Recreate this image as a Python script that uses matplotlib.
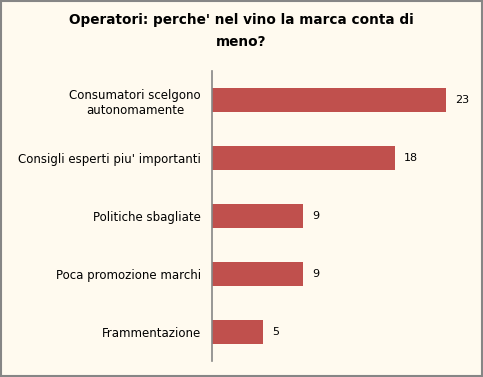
import matplotlib.pyplot as plt
from matplotlib.patches import Rectangle

categories = ['Consumatori scelgono\nautonomamente', "Consigli esperti piu' importanti",
              'Politiche sbagliate', 'Poca promozione marchi', 'Frammentazione']
values = [23, 18, 9, 9, 5]

bg = '#FFFAEF'
red = '#C0504D'

fig = plt.figure(figsize=(4.83, 3.77), dpi=100, facecolor=bg)
ax = fig.add_axes([212 / 483, 16 / 377, 258 / 483, 290 / 377], facecolor=bg)

ypos = list(range(len(values)))
ax.barh(ypos, values, height=0.4, color=red)
ax.set_ylim(len(values) - 0.5, -0.5)
ax.set_xlim(0, 25.4)

for y, v in zip(ypos, values):
    ax.text(v + 0.9, y, str(v), va='center', ha='left', fontsize=8, color='#000000')

ax.set_yticks(ypos)
ax.set_yticklabels(categories, fontsize=8.5, multialignment='center')
ax.tick_params(axis='y', length=0, pad=8)
ax.set_xticks([])
for s in ['top', 'right', 'bottom']:
    ax.spines[s].set_visible(False)
ax.spines['left'].set_color('#868686')
ax.spines['left'].set_linewidth(1.2)

fig.text(0.5, 1 - 31 / 377, "Operatori: perche' nel vino la marca conta di\nmeno?",
         ha='center', va='center', fontsize=9.8, fontweight='bold', linespacing=1.75)

# outer border
fig.patches.append(Rectangle((0.002, 0.003), 0.996, 0.994, transform=fig.transFigure,
                             fill=False, edgecolor='#868686', linewidth=1.5))

fig.savefig('out.png', dpi=100, facecolor=bg)
